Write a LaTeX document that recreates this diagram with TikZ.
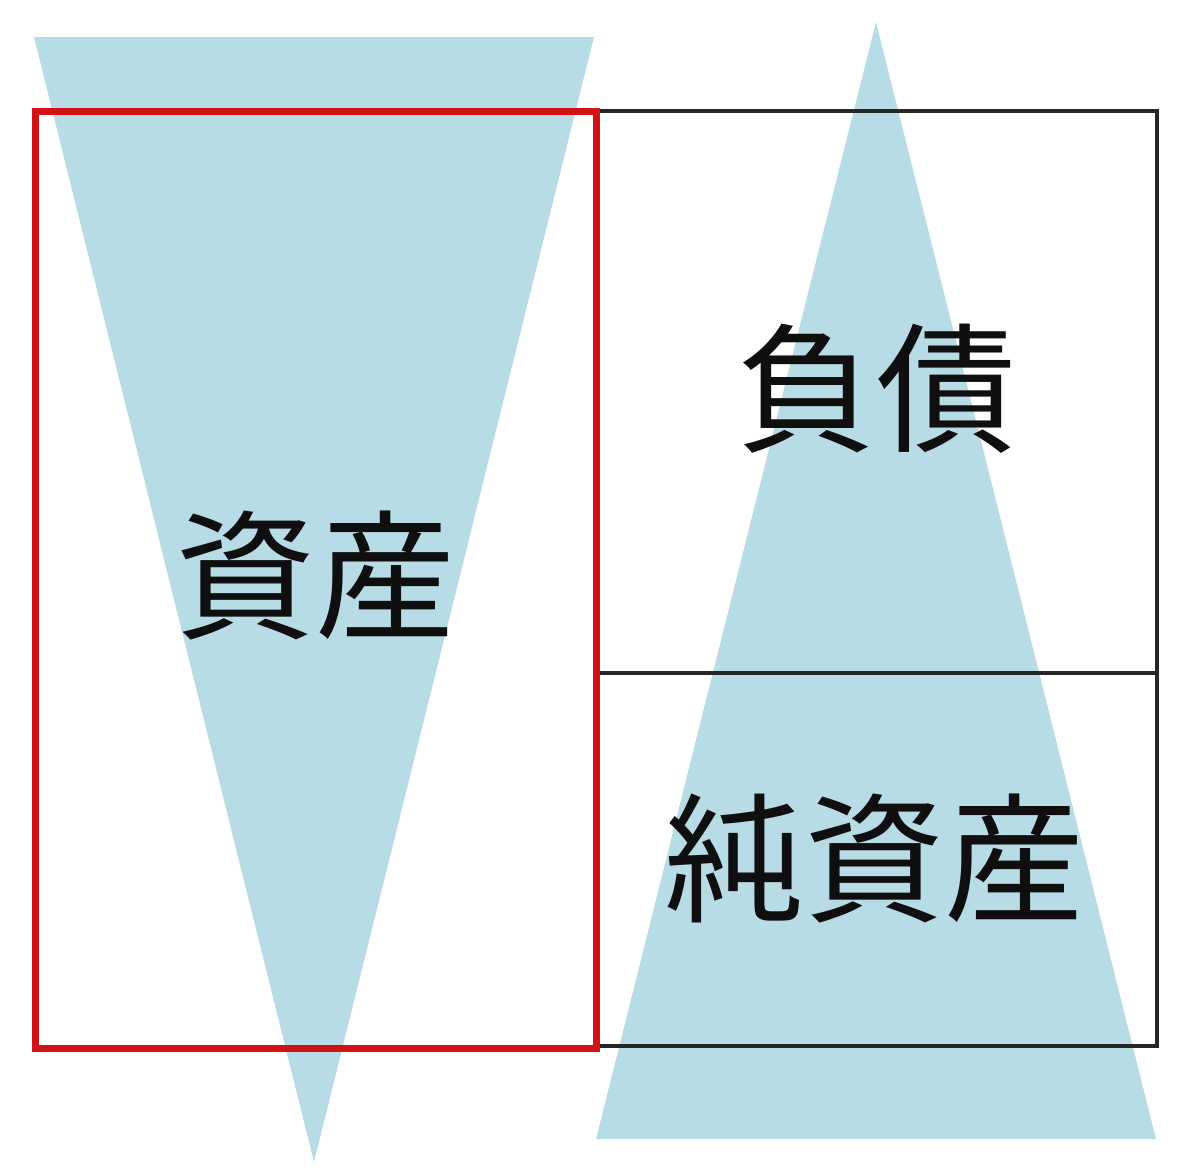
\documentclass[tikz,border=0pt]{standalone}
\usepackage{fontspec}
\usepackage{tikz}
\usetikzlibrary{positioning}
\newfontfamily\jpfont{Noto Sans CJK JP}
\definecolor{colorwedge}{RGB}{183,220,230}
\definecolor{colorred}  {RGB}{208,18,20}
\definecolor{colortext} {RGB}{15,15,15}

\begin{document}
\begin{tikzpicture}[
    x=0.5pt, y=-0.5pt,
    wedge/.style={fill=colorwedge,draw=none},
    assetbox/.style={draw=colorred,line width=3.5pt,line join=miter},
    claimbox/.style={draw=black!85,line width=1.7pt},
    label/.style={text=colortext,font={\jpfont\fontsize{70}{70}\selectfont},inner sep=0pt},
]
    \useasboundingbox (0,0) rectangle (1200,1168);

    % Wedges
    \fill[wedge] (34,37) -- (594,37) -- (314,1162) -- cycle;
    \fill[wedge] (876,22) -- (1156,1139) -- (596,1139) -- cycle;

    % Boxes
    \draw[claimbox] (597,111) rectangle (1157,1046);
    \draw[claimbox] (597,673) -- (1157,673);
    \draw[assetbox] (35,111) rectangle (596,1048);

    % Labels
    \node[label] (assets)      at (315,575) {資産};
    \node[label] (liabilities) at (876,389) {負債};
    \node[label] (netassets)   at (874,858) {純資産};

\end{tikzpicture}
\end{document}
